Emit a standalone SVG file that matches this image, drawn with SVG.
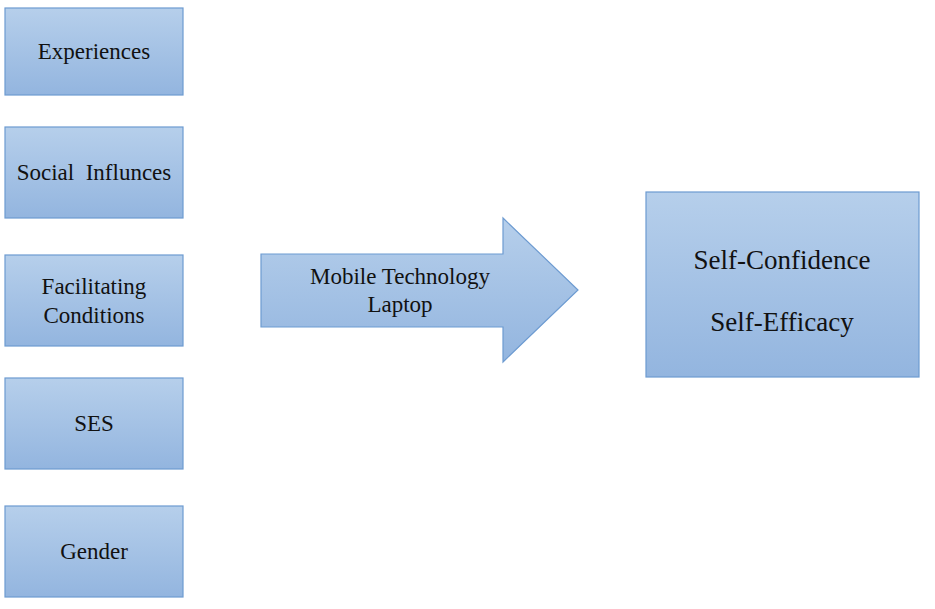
<svg xmlns="http://www.w3.org/2000/svg" width="935" height="609" viewBox="0 0 935 609">
<defs>
<linearGradient id="g" x1="0" y1="0" x2="0" y2="1">
<stop offset="0" stop-color="#b6cfeb"/>
<stop offset="1" stop-color="#93b5df"/>
</linearGradient>
<style>
.box{fill:url(#g);stroke:#6d9bd1;stroke-width:1.2}
.t{font-size:23px;fill:#111;text-anchor:middle}
.tl{font-size:27px}
</style>
</defs>
<rect width="935" height="609" fill="#fff"/>
<g font-family="Liberation Serif, Times New Roman, DejaVu Serif, serif">
<g id="experiences"><rect class="box" x="5" y="8" width="178" height="87"/><text class="t" x="94" y="59">Experiences</text></g>
<g id="social"><rect class="box" x="5" y="127" width="178" height="91"/><text class="t" x="94" y="180" xml:space="preserve">Social  Influnces</text></g>
<g id="facilitating"><rect class="box" x="5" y="255" width="178" height="91"/><text class="t" x="94" y="294">Facilitating</text><text class="t" x="94" y="323">Conditions</text></g>
<g id="ses"><rect class="box" x="5" y="378" width="178" height="91"/><text class="t" x="94" y="431">SES</text></g>
<g id="gender"><rect class="box" x="5" y="506" width="178" height="91"/><text class="t" x="94" y="559">Gender</text></g>
<g id="connectors">
<g id="mobile"><path class="box" d="M261,254 H503 V218 L578,290 L503,362 V327 H261 Z"/><text class="t" x="400" y="284">Mobile Technology</text><text class="t" x="400" y="312">Laptop</text></g>
</g>
<g id="outcome"><rect class="box" x="646" y="192" width="273" height="185"/><text class="t tl" x="782" y="269">Self-Confidence</text><text class="t tl" x="782" y="331">Self-Efficacy</text></g>
</g>
</svg>
